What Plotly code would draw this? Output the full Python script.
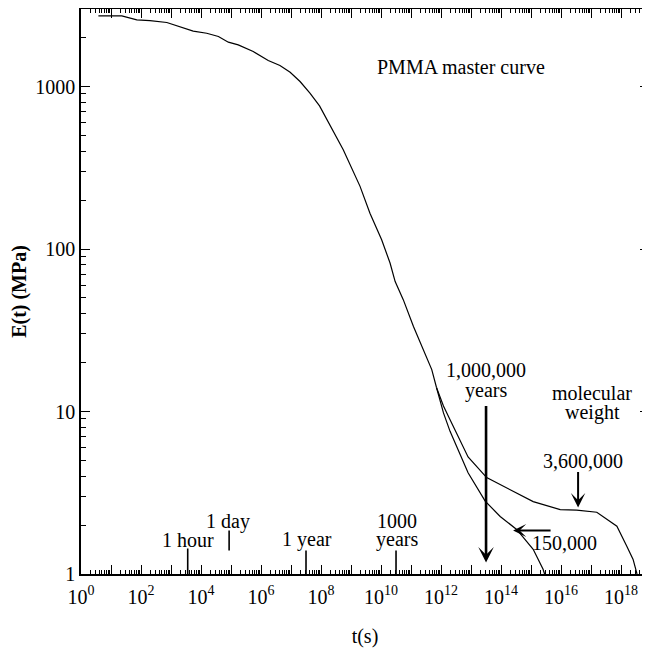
import math
import plotly.graph_objects as go

# ---- data (log10 of time in s, modulus in MPa) ----
main_logt = [0.58, 1.36, 1.86, 2.30, 2.86, 3.30, 3.74, 4.19, 4.58, 4.91, 5.24,
             5.74, 6.24, 6.63, 6.97, 7.30, 7.63, 7.95, 8.30, 8.74, 9.30, 9.63,
             10.02, 10.30, 10.47, 10.74, 11.08, 11.41, 11.69, 11.85]
main_E = [2723, 2723, 2570, 2547, 2477, 2339, 2193, 2128, 2032, 1875, 1803,
          1641, 1445, 1346, 1225, 1074, 910, 760, 581, 408, 243, 166,
          114, 82, 63, 48.8, 33.4, 24.0, 18.1, 14.0]

# molecular weight 3,600,000
hi_logt = [11.85, 12.08, 12.30, 12.90, 13.52, 14.19, 15.07, 15.97, 16.52,
           17.19, 17.40, 17.86, 18.19, 18.40, 18.53]
hi_E = [14.0, 10.8, 8.9, 5.25, 3.92, 3.40, 2.79, 2.49, 2.47,
        2.40, 2.26, 1.97, 1.48, 1.23, 1.0]

# molecular weight 150,000
lo_logt = [11.85, 12.08, 12.30, 12.90, 13.47, 13.97, 14.52, 15.07, 15.40, 15.45]
lo_E = [14.0, 9.8, 7.55, 4.2, 2.81, 2.26, 1.88, 1.42, 1.07, 1.0]

x_tick_exponents = list(range(0, 19))
y_tick_values = [1, 10, 100, 1000]
y_tick_labels = ["1", "10", "100", "1000"]

event_seconds = [3600, 86400, 3.156e7, 3.156e10]
million_years_s = 3.156e13

FONT = "Times New Roman, Liberation Serif, serif"

fig = go.Figure()

for lt, ev in [(main_logt, main_E), (hi_logt, hi_E), (lo_logt, lo_E)]:
    fig.add_trace(go.Scatter(
        x=[10 ** v for v in lt], y=ev, mode="lines",
        line=dict(color="black", width=1.2), hoverinfo="skip"))

# time landmark marks (1 hour, 1 day, 1 year, 1000 years)
mark_extents = [(1.0, 10 ** 0.157), (10 ** 0.145, 10 ** 0.268),
                (1.0, 10 ** 0.145), (1.0, 10 ** 0.145)]
for s, (y0, y1) in zip(event_seconds, mark_extents):
    fig.add_trace(go.Scatter(x=[s, s], y=[y0, y1], mode="lines",
                             line=dict(color="black", width=1.6),
                             hoverinfo="skip"))

x_minor = [k * 10 ** e for e in x_tick_exponents for k in range(2, 10)]
y_minor = [k * 10 ** e for e in range(0, 4) for k in range(2, 10)]


def px_to_lx(px):
    return (px - 81) / 30.0


def py_to_ly(py):
    return (574.5 - py) / 162.5


annotations = []


def txt(text, px, py, xanchor="center", size=20):
    annotations.append(dict(text=text, x=px_to_lx(px), y=py_to_ly(py),
                            xref="x", yref="y", showarrow=False,
                            xanchor=xanchor, yanchor="middle",
                            font=dict(family=FONT, size=size, color="black")))


txt("PMMA master curve", 375, 67, xanchor="left")
txt("1,000,000", 486, 370)
txt("years", 486, 391)
txt("molecular", 592, 393)
txt("weight", 592, 413)
txt("3,600,000", 583, 461)
txt("150,000", 564, 543)
txt("1 hour", 188, 540)
txt("1 day", 228, 522)
txt("1 year", 307, 540)
txt("1000", 397, 521)
txt("years", 397, 540)

# arrows
annotations.append(dict(x=math.log10(million_years_s), y=py_to_ly(563),
                        xref="x", yref="y", ax=0, ay=-158, axref="pixel",
                        ayref="pixel", text="", showarrow=True, arrowhead=3,
                        arrowsize=1.0, arrowwidth=2.6, arrowcolor="black",
                        standoff=0, startstandoff=0))
annotations.append(dict(x=px_to_lx(578), y=py_to_ly(508), xref="x", yref="y",
                        ax=0, ay=-37, text="", showarrow=True, arrowhead=3,
                        arrowsize=1.2, arrowwidth=2.0, arrowcolor="black",
                        standoff=0))
annotations.append(dict(x=px_to_lx(513), y=py_to_ly(531), xref="x", yref="y",
                        ax=39, ay=0, text="", showarrow=True, arrowhead=3,
                        arrowsize=1.1, arrowwidth=2.0, arrowcolor="black",
                        standoff=0))

# the page body adds an 8 px offset, so the figure is sized to compensate
fig.update_layout(
    width=642, height=644,
    margin=dict(l=73, r=1, t=1, b=77.5, autoexpand=False),
    plot_bgcolor="white", paper_bgcolor="white",
    showlegend=False,
    font=dict(family=FONT, size=20, color="black"),
    annotations=annotations,
    xaxis=dict(
        type="log", range=[0, 18.93], automargin=False,
        tickmode="array",
        tickvals=[10 ** e for e in x_tick_exponents],
        ticktext=[f"10<sup>{e}</sup>" if e % 2 == 0 else "" for e in x_tick_exponents],
        ticks="inside", ticklen=9, tickwidth=1.2, tickcolor="black",
        showline=True, linecolor="black", linewidth=1.5, mirror="allticks",
        showgrid=False, zeroline=False,
        tickfont=dict(family=FONT, size=20, color="black"),
        ticklabelstandoff=4,
        minor=dict(tickmode="array", tickvals=x_minor, ticks="inside",
                   ticklen=4, tickwidth=1, tickcolor="black", showgrid=False),
        title=dict(text="t(s)", font=dict(family=FONT, size=20, color="black"),
                   standoff=22),
    ),
    yaxis=dict(
        type="log", range=[0, math.log10(3000)], automargin=False,
        tickmode="array", tickvals=y_tick_values, ticktext=y_tick_labels,
        ticks="inside", ticklen=9, tickwidth=1.2, tickcolor="black",
        showline=True, linecolor="black", linewidth=1.5, mirror="allticks",
        showgrid=False, zeroline=False,
        tickfont=dict(family=FONT, size=20, color="black"),
        minor=dict(tickmode="array", tickvals=y_minor, ticks="inside",
                   ticklen=5, tickwidth=1, tickcolor="black", showgrid=False),
        title=dict(text="<b>E(t) (MPa)</b>",
                   font=dict(family=FONT, size=20, color="black"),
                   standoff=6),
    ),
)

fig.write_html("out.html")
